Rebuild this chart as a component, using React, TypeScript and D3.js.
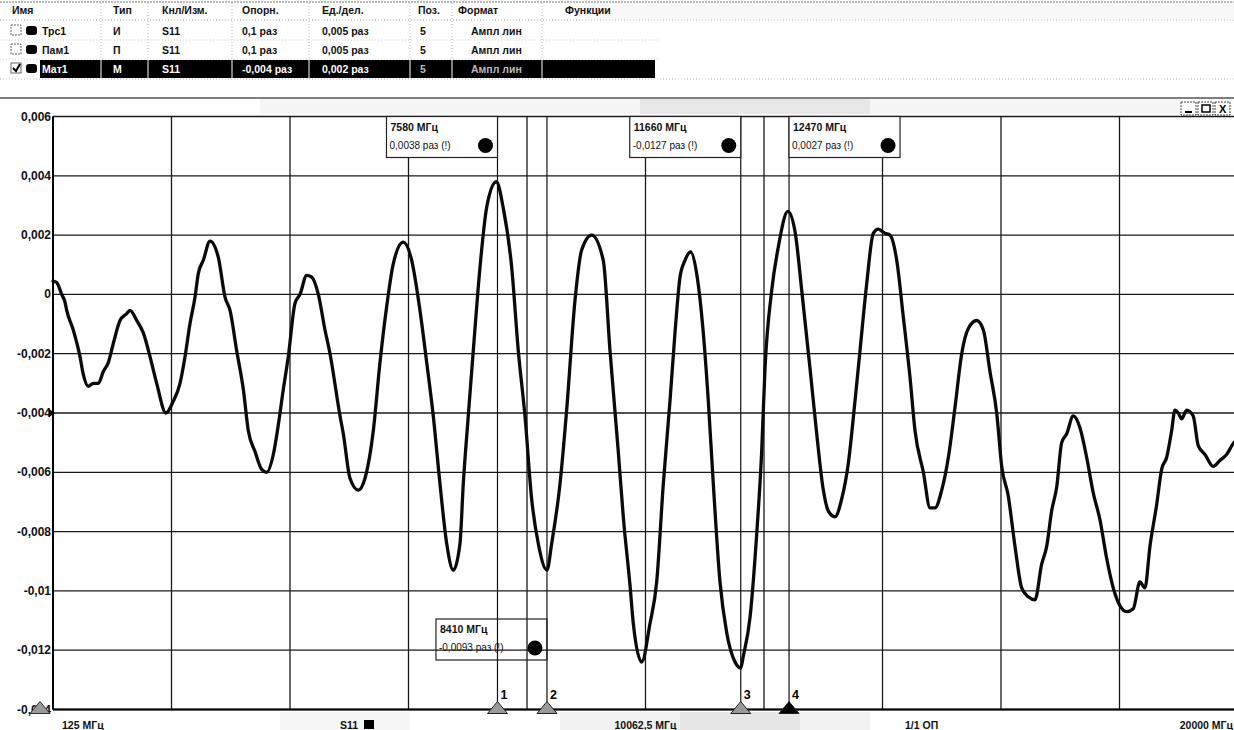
import React from 'react';
import * as d3 from 'd3';

// ---------- DATA ----------
const FREQ_MHZ = [
  125, 187, 271, 326, 355, 465, 578, 633, 717, 801, 885, 969, 1052, 1136, 1249, 1361, 1416, 1529, 1640, 1752,
  1864, 2020, 2143, 2255, 2339, 2423, 2507, 2562, 2646, 2758, 2897, 3010, 3094, 3206, 3317, 3401, 3513, 3625, 3709, 3820,
  3904, 3988, 4071, 4184, 4268, 4380, 4464, 4575, 4687, 4771, 4939, 4994, 5106, 5245, 5358, 5497, 5609, 5722, 5833, 6000,
  6141, 6280, 6393, 6503, 6616, 6728, 6839, 6951, 7006, 7090, 7174, 7287, 7399, 7560, 7678, 7818, 7929, 8041, 8153, 8264,
  8410, 8489, 8628, 8740, 8880, 8992, 9160, 9354, 9467, 9606, 9690, 9802, 9858, 9999, 10138, 10250, 10361, 10473, 10557, 10641,
  10725, 10820, 10921, 11032, 11116, 11200, 11312, 11424, 11564, 11660, 11703, 11815, 11927, 12011, 12067, 12179, 12290, 12450, 12572, 12683,
  12822, 12934, 13045, 13128, 13241, 13353, 13464, 13576, 13660, 13773, 13883, 13967, 14079, 14163, 14276, 14387, 14499, 14583, 14723, 14835,
  14918, 15031, 15142, 15254, 15366, 15477, 15618, 15729, 15840, 15953, 16037, 16147, 16260, 16372, 16483, 16595, 16707, 16791, 16875, 16959,
  17043, 17127, 17237, 17349, 17462, 17573, 17685, 17797, 17908, 18020, 18132, 18243, 18355, 18439, 18523, 18635, 18719, 18803, 18887, 18943,
  18998, 19055, 19139, 19249, 19333, 19446, 19585, 19697, 19809, 19932, 20000,
];

const S11_LIN = [
  0.00045, 0.0004, 0.0, -0.00026, -0.00054, -0.0012, -0.0021, -0.0027, -0.0031, -0.003, -0.003, -0.0026, -0.0023, -0.00166, -0.00088, -0.00065, -0.00054, -0.00088, -0.0013, -0.0021,
  -0.003, -0.004, -0.0036, -0.003, -0.0021, -0.00098, -0.00009, 0.0007, 0.00115, 0.0018, 0.00126, -0.00009, -0.00054, -0.0019, -0.0032, -0.0046, -0.0053, -0.0059, -0.006, -0.0054,
  -0.0044, -0.0032, -0.0021, -0.0003, 0.0, 0.00064, 0.00058, 0.0, -0.0012, -0.002, -0.0041, -0.0047, -0.0062, -0.0066, -0.0062, -0.0046, -0.0023, -0.0004, 0.00104, 0.00176,
  0.00115, -0.00054, -0.0023, -0.0041, -0.0064, -0.0084, -0.0093, -0.0084, -0.0064, -0.0041, -0.0019, 0.00092, 0.00294, 0.0038, 0.0029, 0.00092, -0.0019, -0.0041, -0.0069, -0.0084,
  -0.0093, -0.0084, -0.0064, -0.0039, -0.0002, 0.0015, 0.002, 0.00115, -0.0019, -0.0053, -0.0075, -0.0098, -0.0111, -0.0124, -0.0111, -0.0097, -0.0064, -0.0036, -0.0013, 0.00058,
  0.00115, 0.00143, 0.0007, -0.0013, -0.0036, -0.0064, -0.0097, -0.0114, -0.0124, -0.0126, -0.0122, -0.0109, -0.0081, -0.0053, -0.0025, 0.00013, 0.0016, 0.0028, 0.0021, 0.00013,
  -0.0025, -0.0047, -0.0066, -0.0073, -0.0075, -0.0069, -0.0057, -0.0036, -0.0019, 0.00037, 0.00206, 0.0022, 0.00206, 0.002, 0.00115, -0.00077, -0.0028, -0.0046, -0.006, -0.0072,
  -0.0072, -0.0066, -0.0055, -0.0038, -0.002, -0.00115, -0.00088, -0.0012, -0.0026, -0.004, -0.0058, -0.0068, -0.0085, -0.0099, -0.0102, -0.0103, -0.0091, -0.0085, -0.0073, -0.0065,
  -0.005, -0.0047, -0.0041, -0.0045, -0.0055, -0.0067, -0.0076, -0.0089, -0.0099, -0.0105, -0.0107, -0.0106, -0.0097, -0.0099, -0.0085, -0.0071, -0.0059, -0.0055, -0.0046, -0.0039,
  -0.004, -0.0042, -0.0039, -0.0041, -0.0051, -0.0054, -0.0058, -0.0056, -0.0054, -0.005, -0.0049,
];

const Y_TICKS = [0.006, 0.004, 0.002, 0, -0.002, -0.004, -0.006, -0.008, -0.01, -0.012, -0.014];
const F_START = 125;
const F_STOP = 20000;
const X_DIVISIONS = 10;
const REF_VALUE = -0.004;

const MARKER_IDS = ['1', '2', '3', '4'];
const MARKER_FREQ = [7580, 8410, 11660, 12470];
const MARKER_TEXT = ['0,0038 раз (!)', '-0,0093 раз (!)', '-0,0127 раз (!)', '0,0027 раз (!)'];

const TABLE_HEADERS = ['Имя', 'Тип', 'Кнл/Изм.', 'Опорн.', 'Ед./дел.', 'Поз.', 'Формат', 'Функции'];
const TABLE_ROWS = [
  ['Трс1', 'И', 'S11', '0,1 раз', '0,005 раз', '5', 'Ампл лин'],
  ['Пам1', 'П', 'S11', '0,1 раз', '0,005 раз', '5', 'Ампл лин'],
  ['Мат1', 'М', 'S11', '-0,004 раз', '0,002 раз', '5', 'Ампл лин'],
];
const ROW_CHECKED = [false, false, true];

const BOTTOM_LEFT = '125 МГц';
const BOTTOM_CENTER = '10062,5 МГц';
const BOTTOM_RIGHT = '20000 МГц';
const TRACE_NAME = 'S11';
const SCALE_INFO = '1/1 ОП';

const FONT = '"Liberation Sans", Arial, sans-serif';

const fmt = (v: number) => (v === 0 ? '0' : String(+v.toFixed(3)).replace('.', ','));
const fmtF = (f: number) => String(f);

export default function App() {
  const W = 1234;
  const H = 730;
  const L = 53;
  const R = 1238;
  const T = 116.5;
  const B = 709.5;

  const x = d3.scaleLinear().domain([F_START, F_STOP]).range([L, R]);
  const y = d3.scaleLinear().domain([-0.014, 0.006]).range([B, T]);

  const xGrid = d3.range(0, X_DIVISIONS + 1).map((i) => F_START + (i * (F_STOP - F_START)) / X_DIVISIONS);

  const line = d3
    .line<number>()
    .x((_, i) => x(FREQ_MHZ[i]))
    .y((d) => y(d))
    .curve(d3.curveMonotoneX);
  const path = line(S11_LIN) || '';

  // table layout
  const headerX = [12, 113, 162, 242, 322, 418, 458, 565];
  const cellX = [42, 113, 162, 242, 322, 420, 471];
  const sepX = [101, 148, 232, 309, 410, 452, 542];
  const rowY = [31, 50, 69];

  const boxW = 111;
  const boxH = 41;
  const boxes = MARKER_IDS.map((id, i) => {
    const mx = x(MARKER_FREQ[i]);
    let bx = mx - boxW;
    let by = T;
    if (i === 3) bx = mx;
    if (i === 1) by = 619;
    return { id, mx, bx, by, i };
  });

  return (
    <svg
      width={W}
      height={H}
      viewBox={`0 0 ${W} ${H}`}
      style={{ position: 'absolute', left: 0, top: 0, background: '#fff', fontFamily: FONT }}
    >
      <rect x={0} y={0} width={W} height={H} fill="#fff" />

      {/* ---------- table ---------- */}
      <line x1={0} x2={W} y1={2} y2={2} stroke="#777" strokeDasharray="2,1" />
      <line x1={0} x2={W} y1={20} y2={20} stroke="#aaa" strokeDasharray="1,2" />
      <line x1={0} x2={660} y1={40} y2={40} stroke="#ccc" strokeDasharray="1,2" />
      <line x1={0} x2={660} y1={59} y2={59} stroke="#ccc" strokeDasharray="1,2" />
      <line x1={0} x2={W} y1={79} y2={79} stroke="#bbb" strokeDasharray="1,2" />
      {sepX.map((sx, i) => (
        <line key={'sep' + i} x1={sx} x2={sx} y1={3} y2={60} stroke="#bbb" strokeDasharray="1,2" />
      ))}
      <rect x={585} y={3} width={649} height={17} fill="#f2f2f2" opacity={0.5} />
      {TABLE_HEADERS.map((h, i) => (
        <text key={'h' + i} x={headerX[i]} y={14} fontSize={10.5} fontWeight="bold" fill="#111">
          {h}
        </text>
      ))}
      <rect x={40} y={60} width={615} height={18} fill="#000" />
      {sepX.map((sx, i) => (
        <line key={'wsep' + i} x1={sx} x2={sx} y1={60} y2={78} stroke="#fff" strokeWidth={1} />
      ))}
      {TABLE_ROWS.map((row, r) => (
        <g key={'row' + r}>
          <rect x={11} y={rowY[r] - 6} width={10} height={10} fill="#fff" stroke="#666" strokeWidth={1} strokeDasharray={ROW_CHECKED[r] ? '' : '2,1'} />
          {ROW_CHECKED[r] && (
            <path d={`M13,${rowY[r] - 1} L16,${rowY[r] + 2} L20,${rowY[r] - 5}`} fill="none" stroke="#000" strokeWidth={2} />
          )}
          <rect x={26} y={rowY[r] - 5} width={11} height={9} rx={3} fill="#000" />
          {row.map((c, ci) => (
            <text
              key={'c' + ci}
              x={cellX[ci]}
              y={rowY[r] + 4}
              fontSize={10.5}
              fontWeight="bold"
              fill={r === 2 ? (ci >= 5 ? '#bbb' : '#fff') : '#111'}
            >
              {c}
            </text>
          ))}
        </g>
      ))}

      {/* ---------- chart window title bar ---------- */}
      <line x1={0} x2={W} y1={98} y2={98} stroke="#555" strokeWidth={1.5} />
      <rect x={260} y={99} width={920} height={15} fill="#ececec" opacity={0.55} />
      <rect x={640} y={99} width={230} height={15} fill="#d8d8d8" opacity={0.45} />
      {[0, 1, 2].map((k) => (
        <rect key={'btn' + k} x={1181 + k * 17} y={102} width={15} height={13} fill="#fff" stroke="#444" strokeDasharray="2,1" />
      ))}
      <line x1={1185} x2={1192} y1={112} y2={112} stroke="#000" strokeWidth={2} />
      <rect x={1202} y={105} width={8} height={7} fill="none" stroke="#000" strokeWidth={1.5} />
      <text x={1219} y={113} fontSize={11} fontWeight="bold" fill="#000">X</text>

      {/* bottom noise areas */}
      <rect x={280} y={712} width={130} height={18} fill="#f0f0f0" opacity={0.6} />
      <rect x={560} y={712} width={310} height={18} fill="#e8e8e8" opacity={0.55} />
      <rect x={680} y={712} width={120} height={18} fill="#d6d6d6" opacity={0.45} />

      {/* ---------- grid ---------- */}
      <g>
        {Y_TICKS.map((v, i) => (
          <line key={'yg' + i} x1={L} x2={W} y1={y(v)} y2={y(v)} stroke="#1a1a1a" strokeWidth={1.3} />
        ))}
        {xGrid.map((f, i) => (
          <line key={'xg' + i} x1={x(f)} x2={x(f)} y1={T} y2={B} stroke="#1a1a1a" strokeWidth={1.3} />
        ))}
        <line x1={L} x2={L} y1={T} y2={B} stroke="#000" strokeWidth={2} />
        <line x1={L} x2={W} y1={B} y2={B} stroke="#000" strokeWidth={1.8} />
      </g>

      {/* marker lines */}
      {MARKER_FREQ.map((f, i) => (
        <line key={'ml' + i} x1={x(f)} x2={x(f)} y1={T} y2={B} stroke="#111" strokeWidth={1.2} />
      ))}

      {/* ---------- y labels ---------- */}
      {Y_TICKS.map((v, i) => (
        <text key={'yl' + i} x={51} y={y(v) + 4} fontSize={12} fontWeight="bold" textAnchor="end" fill="#111">
          {fmt(v)}
        </text>
      ))}
      <path d={`M49,${y(REF_VALUE) - 4} L55,${y(REF_VALUE)} L49,${y(REF_VALUE) + 4} Z`} fill="#000" />

      {/* ---------- trace ---------- */}
      <path d={path} fill="none" stroke="#0a0a0a" strokeWidth={3.3} strokeLinejoin="round" strokeLinecap="round" />

      {/* ---------- annotation boxes ---------- */}
      {boxes.map((b) => (
        <g key={'box' + b.id}>
          <rect
            x={b.bx}
            y={b.by}
            width={boxW}
            height={boxH}
            fill={b.i === 1 ? 'none' : '#fff'}
            stroke="#222"
            strokeWidth={1.2}
          />
          <text x={b.bx + 4} y={b.by + 14} fontSize={10.5} fontWeight="bold" fill="#111">
            {fmtF(MARKER_FREQ[b.i])} МГц
          </text>
          <text x={b.bx + 3} y={b.by + 32} fontSize={10} fill="#111">
            {MARKER_TEXT[b.i]}
          </text>
          <circle cx={b.bx + boxW - 12} cy={b.by + 29} r={7.5} fill="#000" />
        </g>
      ))}

      {/* ---------- marker triangles ---------- */}
      {MARKER_IDS.map((id, i) => {
        const mx = x(MARKER_FREQ[i]);
        return (
          <g key={'tri' + id}>
            <path
              d={`M${mx - 10},${B + 4} L${mx},${B - 8} L${mx + 10},${B + 4} Z`}
              fill={i === 3 ? '#000' : '#9a9a9a'}
              stroke="#222"
              strokeWidth={1}
            />
            <text x={mx + 3} y={B - 11} fontSize={12.5} fontWeight="bold" fill="#000">
              {id}
            </text>
          </g>
        );
      })}
      <path d={`M30,${B + 4} L40,${B - 8} L50,${B + 4} Z`} fill="#9a9a9a" stroke="#333" strokeWidth={1} />

      {/* ---------- bottom labels ---------- */}
      <text x={62} y={729} fontSize={10.5} fontWeight="bold" fill="#111">{BOTTOM_LEFT}</text>
      <text x={340} y={729} fontSize={10.5} fontWeight="bold" fill="#111">{TRACE_NAME}</text>
      <rect x={364} y={720} width={10} height={9} fill="#000" />
      <text x={x((F_START + F_STOP) / 2)} y={729} fontSize={10.5} fontWeight="bold" textAnchor="middle" fill="#111">
        {BOTTOM_CENTER}
      </text>
      <text x={905} y={729} fontSize={10.5} fontWeight="bold" fill="#111">{SCALE_INFO}</text>
      <text x={1233} y={729} fontSize={10.5} fontWeight="bold" textAnchor="end" fill="#111">{BOTTOM_RIGHT}</text>
    </svg>
  );
}
